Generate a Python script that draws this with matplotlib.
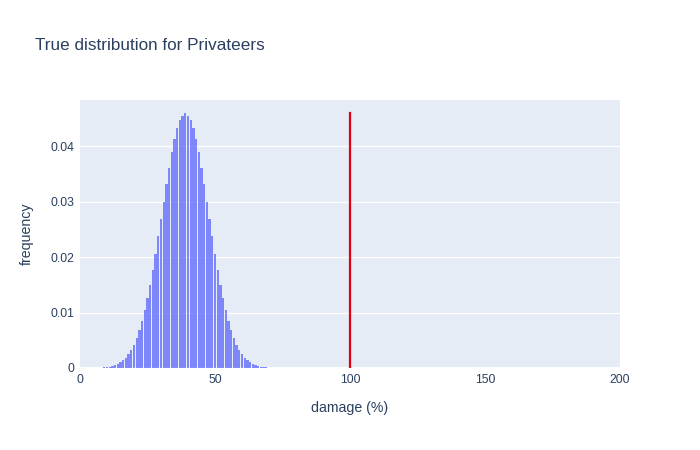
import matplotlib

matplotlib.use("Agg")
import matplotlib.pyplot as plt

# ─── data ──────────────────────────────────────────────────────────────────
damage = list(range(9, 70))
frequency = [
    0.00012, 0.00018, 0.00026, 0.00037, 0.00053, 0.00074, 0.00102, 0.00139,
    0.00188, 0.00249, 0.00326, 0.00422, 0.00539, 0.00680, 0.00845, 0.0104,
    0.0126, 0.0150, 0.0177, 0.0206, 0.0237, 0.0268, 0.0300, 0.0332,
    0.0361, 0.0389, 0.0413, 0.0432, 0.0447, 0.0455, 0.0459, 0.0455,
    0.0447, 0.0432, 0.0413, 0.0389, 0.0361, 0.0332, 0.0300, 0.0268,
    0.0237, 0.0206, 0.0177, 0.0150, 0.0126, 0.0104, 0.00845, 0.00680,
    0.00539, 0.00422, 0.00326, 0.00249, 0.00188, 0.00139, 0.00102, 0.00074,
    0.00053, 0.00037, 0.00026, 0.00018, 0.00012,
]
threshold_x = 100
threshold_top = 0.0459
x_ticks = [0, 50, 100, 150, 200]
y_ticks = [0, 0.01, 0.02, 0.03, 0.04]
y_tick_labels = ["0", "0.01", "0.02", "0.03", "0.04"]

INK = "#2a3f5f"
plt.rcParams["font.family"] = ["Liberation Sans", "DejaVu Sans"]

fig = plt.figure(figsize=(7, 4.5), dpi=100)
fig.patch.set_facecolor("white")
ax = fig.add_axes([80 / 700, 82 / 450, 540 / 700, 268 / 450])
ax.set_facecolor("#e5ecf6")

ax.bar(damage, frequency, width=0.82, color="#636efa", alpha=0.8,
       linewidth=0, zorder=2)
ax.plot([threshold_x, threshold_x], [0, threshold_top], color="#e0000f",
        linewidth=1.6, zorder=3)

ax.set_xlim(0, 200)
ax.set_ylim(0, 0.0483)
ax.set_xticks(x_ticks)
ax.set_yticks(y_ticks)
ax.set_yticklabels(y_tick_labels)
ax.grid(axis="y", color="white", linewidth=1.0, zorder=1)
ax.set_axisbelow(True)
ax.axhline(0, color="white", linewidth=2, zorder=1)
for spine in ax.spines.values():
    spine.set_visible(False)
ax.tick_params(length=0, colors=INK, labelsize=8.8, pad=4)

ax.set_xlabel("damage (%)", color=INK, fontsize=10.2, labelpad=11)
ax.set_ylabel("frequency", color=INK, fontsize=10.2, labelpad=12)
fig.text(35 / 700, 1 - 45 / 450, "True distribution for Privateers",
         color=INK, fontsize=12.3, va="center", ha="left")

fig.savefig("out.png", dpi=100, facecolor="white")
